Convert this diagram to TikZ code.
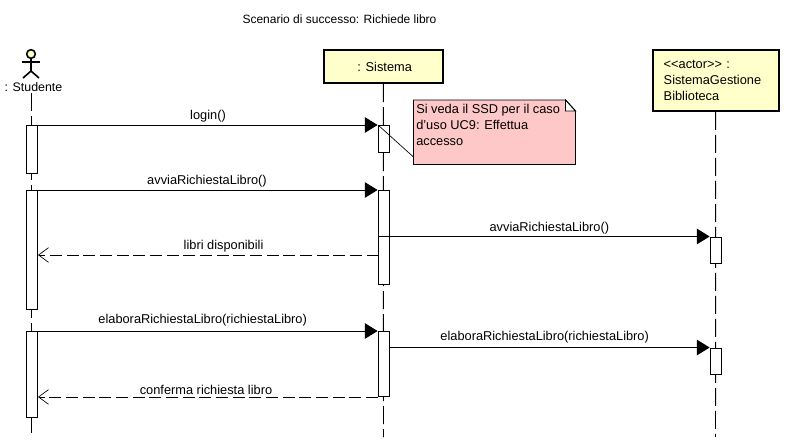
\documentclass[tikz,border=0pt]{standalone}
\usepackage{fontspec}
\setmainfont{Liberation Sans}
\usetikzlibrary{arrows.meta, positioning, backgrounds}
\definecolor{headyellow}{HTML}{FFFFCC}
\definecolor{notepink}{HTML}{FFC8C8}

\begin{document}
\begin{tikzpicture}[
    x=0.75pt, y=-0.75pt,
    every node/.style={font=\fontsize{9.6}{12}\selectfont},
    head/.style={rectangle, draw, line width=1.6pt, fill=headyellow, inner sep=0pt, minimum height=24.75pt},
    act/.style={rectangle, draw, line width=0.7pt, fill=white, anchor=north, inner sep=0pt, minimum width=8.25pt},
    life/.style={line width=0.7pt, dash pattern=on 13.5pt off 3.75pt},
    call/.style={-{Triangle[length=9.5pt, width=11.5pt]}, line width=0.75pt, shorten >=0.3pt},
    reply/.style={-{Straight Barb[length=7.5pt, width=11pt, line width=0.5pt]}, line width=0.6pt, dash pattern=on 9pt off 3.5pt},
    lbl/.style={above, inner sep=0pt, yshift=1.5pt},
    limb/.style={line width=1.2pt}
  ]
    \useasboundingbox (0,0) rectangle (798,439);

    \node[inner sep=0pt, font=\fontsize{9}{12}\selectfont] (title) at (339.5,19) {Scenario di successo: Richiede libro};

    % heads of the three columns
    \node[inner sep=0pt, font=\fontsize{9.3}{12}\selectfont] (stud) at (33.5,87) {: Studente};
    \node[head, minimum width=89.5pt] (sis) at (383.3,66.5) {\hspace*{2pt}: Sistema};
    \node[head, minimum width=94.5pt, minimum height=45.5pt, align=left, text width=78pt] (gest) at (715.7,80.5) {{<}{<}actor{>}{>} :\\SistemaGestione\\Biblioteca};

    % stick figure
    \node[circle, draw, limb, fill=headyellow, minimum size=6.5pt, inner sep=0pt] (actor) at (31,54) {};
    \coordinate (hip) at (31,71);
    \coordinate (armL) at (22,62);
    \coordinate (armR) at (40,62);
    \coordinate (footL) at (23,78);
    \coordinate (footR) at (39,78);
    \draw[limb] (actor) -- (hip);
    \draw[limb] (armL) -- (armR);
    \draw[limb] (footL) -- (hip) -- (footR);

    % lifelines
    \coordinate (endStud) at (31.5,437);
    \coordinate (endSis) at (383.5,437);
    \coordinate (endGest) at (715.5,437);
    \draw[life] (31.5,93) -- (endStud);
    \draw[life] (sis.south) -- (endSis);
    \draw[life] (gest.south) -- (endGest);

    % activations
    \node[act, minimum height=36pt]    (stud1) at (32,125) {};
    \node[act, minimum height=89.25pt] (stud2) at (32,190) {};
    \node[act, minimum height=64.5pt]  (stud3) at (32,331) {};
    \node[act, minimum height=20.25pt] (sis1) at (384,125) {};
    \node[act, minimum height=70.5pt]  (sis2) at (384,190) {};
    \node[act, minimum height=48.75pt] (sis3) at (384,331) {};
    \node[act, minimum height=19.5pt]  (gest1) at (716,236.5) {};
    \node[act, minimum height=19.5pt]  (gest2) at (716,347.5) {};

    % messages
    \draw[call] (stud1.north east) -- node[lbl] (m1) {login()} (sis1.north west);
    \draw[call] (stud2.north east) -- node[lbl, xshift=-0.75pt] (m2) {avviaRichiestaLibro()} (sis2.north west);
    \draw[call] (sis2.west |- gest1.north west) -- node[lbl, xshift=4pt] (m3) {avviaRichiestaLibro()} (gest1.north west);
    \coordinate (libri) at (378.5,255);
    \draw[reply] (libri) -- node[lbl, xshift=11.5pt] (m4) {libri disponibili} (libri -| stud2.east);
    \draw[call] (stud3.north east) -- node[lbl, xshift=-4pt, yshift=1.5pt] (m5) {elaboraRichiestaLibro(richiestaLibro)} (sis3.north west);
    \draw[call] (sis3.east |- gest2.north west) -- node[lbl, xshift=-4pt, yshift=1.5pt] (m6) {elaboraRichiestaLibro(richiestaLibro)} (gest2.north west);
    \draw[reply] (sis3.south west) -- node[lbl, xshift=-1.5pt] (m7) {conferma richiesta libro} (sis3.south west -| stud3.east);

    % note
    \node[anchor=north west, align=left, inner sep=0pt] (note) at (416,103.5) {Si veda il SSD per il caso\\d'uso UC9: Effettua\\accesso};
    \coordinate (noteNW) at (413.5,100);
    \coordinate (noteSW) at (413.5,164.5);
    \coordinate (noteSE) at (575.5,164.5);
    \coordinate (noteE) at (575.5,111);
    \coordinate (noteN) at (565.5,100);
    \coordinate (foldC) at (565.5,111);
    \coordinate (noteTip) at (413.5,157);
    \begin{scope}[on background layer]
      \draw[line width=0.7pt, fill=notepink] (noteNW) -- (noteN) -- (noteE) -- (noteSE) -- (noteSW) -- cycle;
      \draw[line width=0.7pt, fill=white] (noteN) -- (foldC) -- (noteE) -- cycle;
    \end{scope}
    \draw[line width=0.5pt] (sis1.north west) -- (noteTip);
\end{tikzpicture}
\end{document}
